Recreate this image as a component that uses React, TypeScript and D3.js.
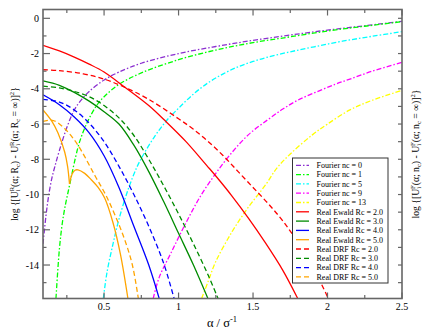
import React from 'react';
import * as d3 from 'd3';

// Fourier part: log{[U_F(a; nc) - U_F(a; inf)]^2}
const fourierNc0 = [[0.09, -12.8], [0.11, -11.2], [0.13, -9.95], [0.15, -9.05], [0.17, -8.4], [0.2, -7.5], [0.25, -6.2], [0.3, -5.2], [0.35, -4.6], [0.4, -4.15], [0.5, -3.5], [0.6, -3.05], [0.75, -2.55], [1.0, -2.0], [1.25, -1.6], [1.5, -1.25], [1.75, -0.95], [2.0, -0.67], [2.25, -0.42], [2.5, -0.17]];
const fourierNc1 = [[0.177, -15.9], [0.2, -13.1], [0.22, -11.6], [0.24, -10.6], [0.26, -9.8], [0.28, -9.0], [0.3, -8.2], [0.336, -7.0], [0.39, -5.85], [0.45, -4.95], [0.5, -4.45], [0.6, -3.75], [0.75, -3.1], [1.0, -2.35], [1.25, -1.8], [1.5, -1.38], [1.75, -1.05], [2.0, -0.72], [2.25, -0.45], [2.5, -0.19]];
const fourierNc5 = [[0.495, -15.9], [0.52, -14.4], [0.56, -12.8], [0.6, -11.4], [0.66, -9.75], [0.72, -8.45], [0.76, -7.8], [0.84, -6.7], [0.92, -5.8], [1.0, -5.1], [1.1, -4.3], [1.2, -3.65], [1.3, -3.15], [1.4, -2.75], [1.5, -2.45], [1.6, -2.2], [1.75, -1.9], [1.92, -1.6], [2.1, -1.3], [2.3, -1.02], [2.5, -0.76]];
const fourierNc9 = [[0.83, -15.9], [0.87, -14.7], [0.95, -13.3], [1.05, -11.6], [1.15, -10.05], [1.25, -8.8], [1.35, -7.7], [1.47, -6.6], [1.6, -5.75], [1.7, -5.15], [1.8, -4.65], [1.92, -4.2], [2.05, -3.75], [2.15, -3.45], [2.3, -3.0], [2.5, -2.5]];
const fourierNc13 = [[1.155, -15.9], [1.2, -14.9], [1.25, -13.8], [1.36, -12.1], [1.47, -10.7], [1.58, -9.5], [1.66, -8.5], [1.75, -7.7], [1.9, -6.6], [2.0, -6.0], [2.15, -5.2], [2.3, -4.65], [2.5, -4.09]];

// real space part: log{[U_R(a; Rc) - U_R(a; inf)]^2}
const ewaldRc2 = [[0.09, -1.53], [0.2, -1.85], [0.3, -2.2], [0.4, -2.6], [0.5, -3.05], [0.63, -3.85], [0.8, -4.95], [0.92, -5.9], [1.05, -7.0], [1.19, -8.36], [1.25, -8.95], [1.36, -10.1], [1.47, -11.35], [1.58, -12.7], [1.7, -14.3], [1.8, -15.9]];
const ewaldRc3 = [[0.09, -3.55], [0.2, -3.8], [0.3, -4.2], [0.4, -4.7], [0.5, -5.3], [0.6, -6.0], [0.7, -7.2], [0.8, -8.7], [0.9, -10.4], [1.0, -12.2], [1.1, -14.0], [1.197, -15.9]];
const ewaldRc4 = [[0.09, -4.34], [0.2, -4.9], [0.3, -5.6], [0.4, -6.5], [0.5, -7.8], [0.6, -9.6], [0.7, -11.8], [0.8, -14.0], [0.87, -15.9]];
// Rc = 5.0 has a cusp near a = 0.27, kept as two pieces
const ewaldRc5a = [[0.09, -5.2], [0.15, -5.85], [0.19, -6.5], [0.236, -7.6], [0.255, -8.4], [0.268, -9.4]];
const ewaldRc5b = [[0.268, -9.4], [0.285, -8.85], [0.305, -8.62], [0.325, -8.6], [0.37, -8.8], [0.414, -9.16], [0.46, -9.6], [0.504, -10.2], [0.56, -11.6], [0.61, -13.4], [0.66, -15.9]];

const drfRc2 = [[0.09, -2.92], [0.2, -2.97], [0.36, -3.15], [0.5, -3.45], [0.63, -3.88], [0.8, -4.6], [1.0, -5.7], [1.1, -6.3], [1.2, -7.0], [1.3, -7.8], [1.4, -8.7], [1.5, -9.6], [1.6, -10.5], [1.7, -11.5], [1.8, -12.7], [1.9, -14.1], [2.0, -15.8]];
const drfRc3 = [[0.09, -3.85], [0.2, -3.95], [0.3, -4.15], [0.4, -4.45], [0.5, -4.95], [0.6, -5.65], [0.7, -6.65], [0.8, -8.0], [0.9, -9.5], [1.0, -11.1], [1.1, -12.8], [1.2, -14.6], [1.265, -15.9]];
const drfRc4 = [[0.09, -4.6], [0.2, -4.75], [0.3, -5.2], [0.4, -5.95], [0.5, -7.0], [0.6, -8.4], [0.7, -10.0], [0.8, -11.8], [0.9, -13.9], [0.97, -15.9]];
const drfRc5 = [[0.09, -5.85], [0.16, -5.8], [0.24, -6.3], [0.3, -6.9], [0.35, -7.55], [0.44, -8.95], [0.51, -10.0], [0.58, -11.3], [0.64, -12.6], [0.69, -14.0], [0.73, -15.9]];

const xMajor = [0.5, 1, 1.5, 2, 2.5];
const xMinor = [0.25, 0.75, 1.25, 1.75, 2.25];
const yMajor = [0, -2, -4, -6, -8, -10, -12, -14];
const yMinor = [-1, -3, -5, -7, -9, -11, -13, -15];

const DASHDOT = '5,2,1.5,2';
const DASH = '5,3';

const series = [
  { label: 'Fourier nc = 0', data: [fourierNc0], color: '#8b2fd0', dash: DASHDOT },
  { label: 'Fourier nc = 1', data: [fourierNc1], color: '#00ff00', dash: DASHDOT },
  { label: 'Fourier nc = 5', data: [fourierNc5], color: '#00ffff', dash: DASHDOT },
  { label: 'Fourier nc = 9', data: [fourierNc9], color: '#ff00ff', dash: DASHDOT },
  { label: 'Fourier nc = 13', data: [fourierNc13], color: '#ffff00', dash: DASHDOT },
  { label: 'Real Ewald Rc = 2.0', data: [ewaldRc2], color: '#ff0000', dash: null },
  { label: 'Real Ewald Rc = 3.0', data: [ewaldRc3], color: '#008b00', dash: null },
  { label: 'Real Ewald Rc = 4.0', data: [ewaldRc4], color: '#0000ff', dash: null },
  { label: 'Real Ewald Rc = 5.0', data: [ewaldRc5a, ewaldRc5b], color: '#ffa500', dash: null },
  { label: 'Real DRF Rc = 2.0', data: [drfRc2], color: '#ff0000', dash: DASH },
  { label: 'Real DRF Rc = 3.0', data: [drfRc3], color: '#008b00', dash: DASH },
  { label: 'Real DRF Rc = 4.0', data: [drfRc4], color: '#0000ff', dash: DASH },
  { label: 'Real DRF Rc = 5.0', data: [drfRc5], color: '#ffa500', dash: DASH },
];

const W = 430, H = 332;
const left = 43, right = 402, top = 9.5, bottom = 298.5;
const FONT = '"Liberation Serif", "DejaVu Serif", serif';
const AXIS = '#666';

// text with sub/superscripts, shifted by dy
function RichText({ parts, size }) {
  let level = 0;
  return parts.map((p, i) => {
    const lv = p[0] === 'sub' ? size * 0.25 : p[0] === 'sup' ? -size * 0.42 : 0;
    const dy = lv - level;
    level = lv;
    return (
      <tspan key={i} dy={dy} dx={p[2] || 0} fontSize={p[0] === 'n' ? size : size * 0.68}>{p[1]}</tspan>
    );
  });
}

const leftTitle = [['n', 'log {[U'], ['sub', 'i'], ['sup', 'R', -2], ['n', '(α; R'], ['sub', 'c'], ['n', ') - U'], ['sub', 'i'], ['sup', 'R', -2], ['n', '(α; R'], ['sub', 'c'], ['n', ' = ∞)]'], ['sup', '2'], ['n', '}']];
const rightTitle = [['n', 'log {[U'], ['sub', 'i'], ['sup', 'F', -2], ['n', '(α; n'], ['sub', 'c'], ['n', ') - U'], ['sub', 'i'], ['sup', 'F', -2], ['n', '(α; n'], ['sub', 'c'], ['n', ' = ∞)]'], ['sup', '2'], ['n', '}']];

export default function App() {
  const x = d3.scaleLinear().domain([0.09, 2.5]).range([left, right]);
  const y = d3.scaleLinear().domain([-15.9, 0.5]).range([bottom, top]);
  const line = d3.line().x(d => x(d[0])).y(d => y(d[1])).curve(d3.curveCatmullRom.alpha(0.5));
  const midY = (top + bottom) / 2;

  const legX = 292.5, legY = 158, legW = 95.5, legH = 125, rowH = 9.3;

  return (
    <svg width={W} height={H} style={{ position: 'absolute', left: 0, top: 0, background: '#fff' }} fontFamily={FONT}>
      <defs>
        <clipPath id="plot">
          <rect x={left} y={top} width={right - left} height={bottom - top} />
        </clipPath>
      </defs>

      <g clipPath="url(#plot)">
        {series.map(s => s.data.map((d, j) => (
          <path key={s.label + j} d={line(d)} fill="none" stroke={s.color} strokeWidth={1.3} strokeDasharray={s.dash || undefined} />
        )))}
      </g>

      {/* frame */}
      <rect x={left} y={top} width={right - left} height={bottom - top} fill="none" stroke={AXIS} strokeWidth={1.6} />

      {/* x ticks, bottom and top */}
      {xMajor.map(v => (
        <g key={'xM' + v}>
          <line x1={x(v)} x2={x(v)} y1={bottom} y2={bottom - 6} stroke={AXIS} strokeWidth={1.2} />
          <line x1={x(v)} x2={x(v)} y1={top} y2={top + 6} stroke={AXIS} strokeWidth={1.2} />
          <text x={x(v)} y={310} fontSize={10} textAnchor="middle">{v}</text>
        </g>
      ))}
      {xMinor.map(v => (
        <g key={'xm' + v}>
          <line x1={x(v)} x2={x(v)} y1={bottom} y2={bottom - 3.5} stroke={AXIS} strokeWidth={1.2} />
          <line x1={x(v)} x2={x(v)} y1={top} y2={top + 3.5} stroke={AXIS} strokeWidth={1.2} />
        </g>
      ))}

      {/* left y axis */}
      {yMajor.map(v => (
        <g key={'yM' + v}>
          <line x1={left} x2={left + 7} y1={y(v)} y2={y(v)} stroke={AXIS} strokeWidth={1.2} />
          <text x={39} y={y(v) + 3.5} fontSize={10} textAnchor="end">{v}</text>
        </g>
      ))}
      {yMinor.map(v => (
        <line key={'ym' + v} x1={left} x2={left + 3.5} y1={y(v)} y2={y(v)} stroke={AXIS} strokeWidth={1.2} />
      ))}

      {/* right y axis, no labels */}
      {yMajor.concat(yMinor).map(v => (
        <line key={'yr' + v} x1={right} x2={right - 4} y1={y(v)} y2={y(v)} stroke={AXIS} strokeWidth={1.2} />
      ))}

      {/* axis titles */}
      <text x={18} y={midY} fontSize={9.7} textAnchor="middle" transform={`rotate(-90,18,${midY})`}>
        <RichText parts={leftTitle} size={9.7} />
      </text>
      <text x={419} y={midY} fontSize={9.7} textAnchor="middle" transform={`rotate(-90,419,${midY})`}>
        <RichText parts={rightTitle} size={9.7} />
      </text>
      <text x={222} y={327} fontSize={12.5} textAnchor="middle">
        <RichText parts={[['n', 'α / σ'], ['sup', '-1']]} size={12.5} />
      </text>

      {/* legend */}
      <rect x={legX} y={legY} width={legW} height={legH} fill="#fff" stroke="#333" strokeWidth={1} />
      {series.map((s, i) => {
        const cy = legY + 7.3 + i * rowH;
        return (
          <g key={'leg' + s.label}>
            <line x1={legX + 3.5} x2={legX + 16.5} y1={cy} y2={cy} stroke={s.color} strokeWidth={1.3} strokeDasharray={s.dash || undefined} />
            <text x={legX + 24} y={cy + 2.8} fontSize={8}>{s.label}</text>
          </g>
        );
      })}
    </svg>
  );
}
